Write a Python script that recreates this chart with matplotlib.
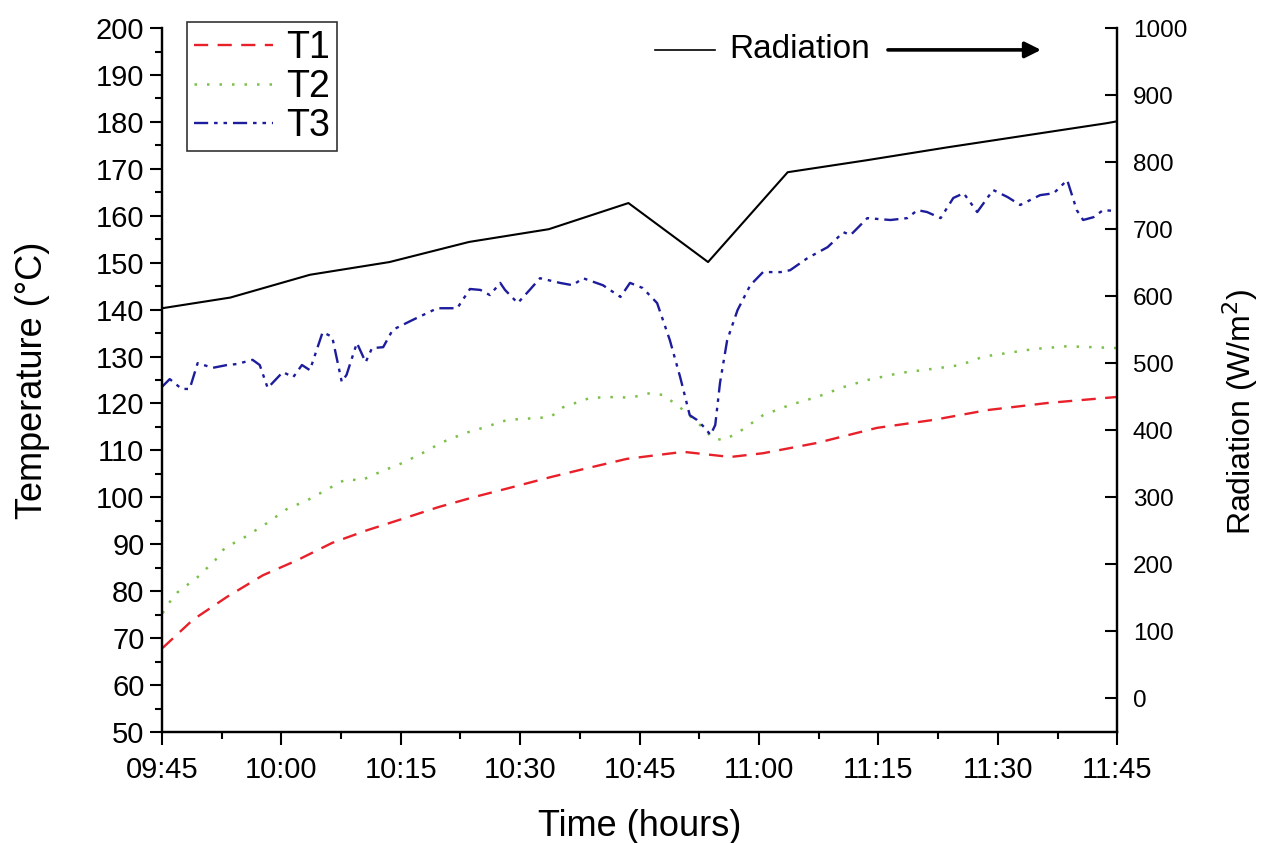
import matplotlib.pyplot as plt
from matplotlib.ticker import MultipleLocator

# minutes after 09:45
t1_min = [0.1, 3.9, 8.2, 12.7, 17.0, 21.4, 25.8, 30.2, 34.7, 39.3, 44.1, 48.8, 52.9,
          58.4, 65.5, 71.4, 75.5, 82.3, 89.8, 96.9, 103.7, 111.2, 120]
t1_val = [67.9, 73.9, 78.8, 83.4, 86.6, 90.3, 93.0, 95.4, 97.9, 100.1, 102.2, 104.3, 106.0,
          108.2, 109.7, 108.6, 109.4, 111.6, 114.8, 116.5, 118.6, 120.1, 121.4]

t2_min = [0.1, 1.0, 2.0, 4.5, 6.7, 7.9, 10.4, 13.2, 15.7, 18.3, 21.1, 22.4, 23.6, 24.9,
          27.4, 30.2, 32.7, 35.3, 38.1, 40.3, 43.4, 48.8, 50.4, 53.8, 57.2, 58.8, 61.3,
          63.0, 65.5, 67.6, 69.2, 70.5, 72.3, 75.5, 78.9, 82.3, 85.6, 88.6, 92.7, 97.8,
          100.3, 103.2, 109.5, 113.7, 120]
t2_val = [75.3, 77.7, 79.8, 83.0, 86.6, 89.2, 91.5, 94.5, 97.5, 99.4, 102.0, 103.3, 103.9, 103.5,
          105.4, 107.3, 109.4, 111.8, 113.7, 114.8, 116.5, 117.1, 119.2, 121.2, 121.4, 121.2, 122.2,
          121.8, 118.6, 115.4, 112.6, 112.2, 113.7, 117.5, 119.7, 121.4, 123.5, 125.0, 126.5, 127.6,
          128.2, 130.0, 131.6, 132.2, 131.8]

t3_min = [0, 1.0, 2.5, 3.5, 4.5, 6.4, 8.2, 9.4, 11.4, 12.3, 13.3, 15.2, 16.5, 17.6, 18.6,
          20.2, 21.4, 22.6, 23.2, 24.5, 25.6, 26.4, 27.8, 29.0, 31.5, 34.6, 37.1, 38.7,
          40.0, 41.2, 42.5, 43.1, 44.7, 46.2, 47.5, 50.0, 51.6, 52.9, 55.4, 57.6, 58.8,
          60.4, 62.2, 63.8, 65.1, 66.3, 67.2, 68.2, 68.9, 69.5, 70.1, 71.0, 72.3, 73.9,
          75.5, 77.7, 78.9, 81.1, 83.6, 85.6, 86.5, 88.6, 91.5, 93.6, 94.9, 96.1, 97.8,
          99.4, 100.7, 102.4, 104.4, 106.2, 107.8, 110.3, 112.0, 113.7, 114.9, 115.7,
          117.0, 118.2, 120]
t3_val = [123.5, 125.2, 123.1, 123.1, 128.6, 127.6, 128.2, 128.4, 129.3, 128.2, 123.3, 126.7,
          125.6, 128.2, 127.1, 135.2, 134.2, 124.6, 126.1, 132.9, 128.8, 131.8, 132.0, 135.7,
          137.8, 140.3, 140.3, 144.4, 144.2, 143.1, 145.7, 144.2, 141.4, 144.2, 146.7, 145.7,
          145.2, 146.7, 145.2, 142.7, 145.7, 144.6, 141.4, 133.5, 125.6, 117.5, 116.5, 114.8,
          113.3, 115.4, 124.4, 133.5, 139.9, 145.2, 148.0, 148.0, 148.4, 151.0, 153.3, 156.5,
          155.9, 159.5, 159.1, 159.5, 161.2, 160.8, 159.5, 163.8, 164.8, 160.8, 165.5, 164.0,
          162.3, 164.4, 164.8, 167.6, 161.2, 159.1, 159.7, 161.2, 161.0]

rad_min = [0, 8.6, 18.6, 28.6, 38.6, 48.6, 58.6, 68.6, 78.6, 88.6, 98.6, 108.6, 118.6, 120]
rad_val = [582, 598, 632, 651, 681, 700, 739, 651, 785, 803, 822, 840, 858, 861]

tick_min = [0, 15, 30, 45, 60, 75, 90, 105, 120]
tick_lab = ["09:45", "10:00", "10:15", "10:30", "10:45", "11:00", "11:15", "11:30", "11:45"]

plt.rcParams["font.family"] = ["Liberation Sans", "DejaVu Sans"]
narrow = ["Liberation Sans Narrow", "Liberation Sans", "DejaVu Sans"]

fig = plt.figure(figsize=(12.64, 8.43), dpi=100)
ax = fig.add_axes([0.128, 0.1317, 0.756, 0.835])
ax2 = ax.twinx()

l1, = ax.plot(t1_min, t1_val, color="#e8202a", lw=1.7, dashes=(6, 4), label="T1")
l2, = ax.plot(t2_min, t2_val, color="#7cc04a", lw=1.8, dashes=(1, 4), label="T2")
l3, = ax.plot(t3_min, t3_val, color="#1c1c9c", lw=1.7, dashes=(6, 2.5, 1.5, 2.5, 1.5, 2.5), label="T3")
ax2.plot(rad_min, rad_val, color="black", lw=1.5)

ax.set_xlim(0, 120)
ax.set_ylim(50, 200)
ax2.set_ylim(-50, 1000)

ax.set_xticks(tick_min)
ax.set_xticklabels(tick_lab, family=narrow)
ax.xaxis.set_minor_locator(MultipleLocator(7.5))
ax.yaxis.set_major_locator(MultipleLocator(10))
ax.yaxis.set_minor_locator(MultipleLocator(5))
for lab in ax.get_yticklabels():
    lab.set_family(narrow)
ax2.set_yticks(range(0, 1001, 100))

ax.tick_params(axis="both", which="major", direction="out", length=9, width=1.5, labelsize=21)
ax.tick_params(axis="x", which="major", pad=8)
ax.tick_params(axis="both", which="minor", direction="out", length=5, width=1.5)
ax.tick_params(axis="y", right=False)
ax2.tick_params(axis="y", which="major", direction="in", length=9, width=1.5, labelsize=17.5, pad=11)

for a in (ax, ax2):
    a.spines["top"].set_visible(False)
    for s in ("left", "right", "bottom"):
        a.spines[s].set_linewidth(1.6)

ax.set_xlabel("Time (hours)", fontsize=26, family=narrow, labelpad=18)
ax.set_ylabel("Temperature (°C)", fontsize=26, labelpad=33)
ax2.set_ylabel("Radiation (W/m$^2$)", fontsize=23, labelpad=24)
ax2.yaxis.label.set_y(0.455)

leg = ax.legend(handles=[l1, l2, l3], loc="upper left", bbox_to_anchor=(0.026, 1.008),
                prop=dict(family=narrow, size=27), frameon=True, fancybox=False,
                edgecolor="black", handlelength=2.1, handletextpad=0.35, labelspacing=0.08,
                borderpad=0.2, borderaxespad=0)
leg.get_frame().set_linewidth(1.2)

# "Radiation ->" marker
ax.plot([0.516, 0.579], [0.969, 0.969], color="black", lw=1.2, transform=ax.transAxes, clip_on=False)
ax.text(0.668, 0.969, "Radiation", transform=ax.transAxes, ha="center", va="center", fontsize=24)
ax.annotate("", xy=(0.923, 0.969), xytext=(0.757, 0.969), xycoords="axes fraction",
            arrowprops=dict(arrowstyle="-|>", color="black", lw=2.6, mutation_scale=24))

fig.savefig("out.png", dpi=100)
